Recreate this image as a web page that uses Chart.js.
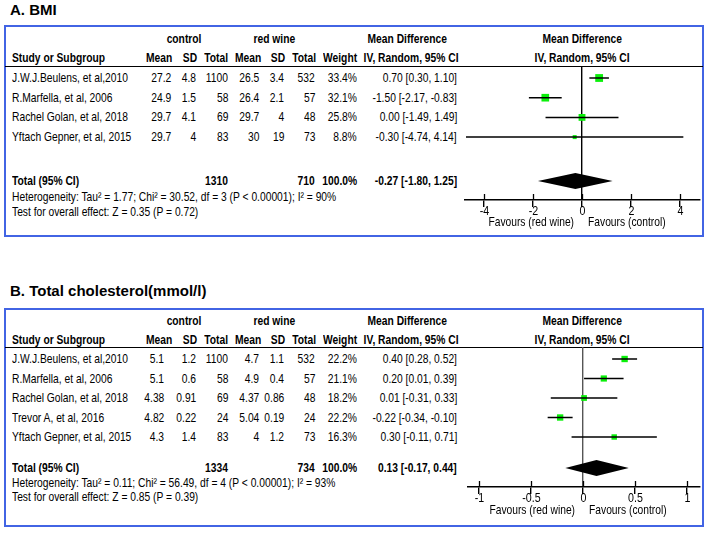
<!DOCTYPE html>
<html>
<head>
<meta charset="utf-8">
<script src="https://cdn.jsdelivr.net/npm/chart.js@4"></script>
<style>
  body { margin: 0; background: #fff; }
  #page { position: relative; width: 711px; height: 535px; overflow: hidden; font-family: "Liberation Sans", Arial, sans-serif; font-size: 13px; color: #000; }
  .t { position: absolute; height: 16px; line-height: 16px; white-space: pre; }
  .t span { display: inline-block; transform: scaleX(0.79); }
  .b { font-weight: bold; }
  .title { position: absolute; font-family: "Liberation Sans", Arial, sans-serif; font-weight: bold; font-size: 15px; line-height: 18px; }
  .box { position: absolute; border: 2px solid #4264e4; box-sizing: border-box; }
  .sep { position: absolute; height: 1px; background: #000; }
  canvas { position: absolute; }
</style>
</head>
<body>
<div id="page"></div>
<script>
// ---- panel A: BMI ----
const studiesA = ['J.W.J.Beulens, et al,2010', 'R.Marfella, et al, 2006', 'Rachel Golan, et al, 2018', 'Yftach Gepner, et al, 2015'];
const ctrlMeanA = [27.2, 24.9, 29.7, 29.7];
const ctrlSdA = [4.8, 1.5, 4.1, 4];
const ctrlTotalA = [1100, 58, 69, 83];
const wineMeanA = [26.5, 26.4, 29.7, 30];
const wineSdA = [3.4, 2.1, 4, 19];
const wineTotalA = [532, 57, 48, 73];
const weightA = [33.4, 32.1, 25.8, 8.8];
const mdA = [0.70, -1.50, 0.00, -0.30];
const loA = [0.30, -2.17, -1.49, -4.74];
const hiA = [1.10, -0.83, 1.49, 4.14];
const pooledA = [-0.27, -1.80, 1.25];   // estimate, low, high
const sumsA = [1310, 710];
const hetA = 'Heterogeneity: Tau\u00b2 = 1.77; Chi\u00b2 = 30.52, df = 3 (P < 0.00001); I\u00b2 = 90%';
const testA = 'Test for overall effect: Z = 0.35 (P = 0.72)';
const ticksA = [-4, -2, 0, 2, 4];

// ---- panel B: total cholesterol ----
const studiesB = ['J.W.J.Beulens, et al,2010', 'R.Marfella, et al, 2006', 'Rachel Golan, et al, 2018', 'Trevor A, et al, 2016', 'Yftach Gepner, et al, 2015'];
const ctrlMeanB = [5.1, 5.1, 4.38, 4.82, 4.3];
const ctrlSdB = [1.2, 0.6, 0.91, 0.22, 1.4];
const ctrlTotalB = [1100, 58, 69, 24, 83];
const wineMeanB = [4.7, 4.9, 4.37, 5.04, 4];
const wineSdB = [1.1, 0.4, 0.86, 0.19, 1.2];
const wineTotalB = [532, 57, 48, 24, 73];
const weightB = [22.2, 21.1, 18.2, 22.2, 16.3];
const mdB = [0.40, 0.20, 0.01, -0.22, 0.30];
const loB = [0.28, 0.01, -0.31, -0.34, -0.11];
const hiB = [0.52, 0.39, 0.33, -0.10, 0.71];
const pooledB = [0.13, -0.17, 0.44];
const sumsB = [1334, 734];
const hetB = 'Heterogeneity: Tau\u00b2 = 0.11; Chi\u00b2 = 56.49, df = 4 (P < 0.00001); I\u00b2 = 93%';
const testB = 'Test for overall effect: Z = 0.85 (P = 0.39)';
const ticksB = [-1, -0.5, 0, 0.5, 1];

const NARROW = 0.79;   // Arial squeezed to look like Arial Narrow
const page = document.getElementById('page');

function txt(str, x, y, align, bold) {
    const d = document.createElement('div');
    d.className = 't' + (bold ? ' b' : '');
    const s = document.createElement('span');
    s.textContent = str;
    d.appendChild(s);
    if (align === 'right') {
        d.style.left = (x - 200) + 'px'; d.style.width = '200px'; d.style.textAlign = 'right';
        s.style.transformOrigin = 'right center';
    } else if (align === 'center') {
        d.style.left = (x - 100) + 'px'; d.style.width = '200px'; d.style.textAlign = 'center';
        s.style.transformOrigin = 'center center';
    } else {
        d.style.left = x + 'px';
        s.style.transformOrigin = 'left center';
    }
    d.style.top = (y - 8) + 'px';
    page.appendChild(d);
}

function fmtCI(m, l, h) {
    return m.toFixed(2) + ' [' + l.toFixed(2) + ', ' + h.toFixed(2) + ']';
}

function narrowText(c, str, x, y, align) {
    c.save();
    c.translate(x, y);
    c.scale(NARROW, 1);
    c.textAlign = align;
    c.fillText(str, 0, 0);
    c.restore();
}

// plugin: diamond, tick marks crossing the axis, tick labels, favours labels
const forestPlugin = {
    id: 'forest',
    afterDraw(chart) {
        const o = chart.options.plugins.forest;
        const xs = chart.scales.x, ys = chart.scales.y;
        const c = chart.ctx;
        c.save();
        // diamond
        const yc = ys.getPixelForValue(o.totalRow);
        c.beginPath();
        c.moveTo(xs.getPixelForValue(o.pooled[1]), yc);
        c.lineTo(xs.getPixelForValue(o.pooled[0]), yc - 8);
        c.lineTo(xs.getPixelForValue(o.pooled[2]), yc);
        c.lineTo(xs.getPixelForValue(o.pooled[0]), yc + 8);
        c.closePath();
        c.fillStyle = '#000';
        c.fill();
        // upper halves of tick marks + labels
        const ay = chart.chartArea.bottom;
        c.strokeStyle = '#000';
        c.lineWidth = 1.3;
        c.font = '13.5px "Liberation Sans", Arial, sans-serif';
        c.fillStyle = '#000';
        c.textBaseline = 'middle';
        xs.ticks.forEach(t => {
            const px = Math.round(xs.getPixelForValue(t.value)) + 0.5;
            c.beginPath();
            c.moveTo(px, ay - 6);
            c.lineTo(px, ay);
            c.stroke();
            narrowText(c, String(t.value), px, ay + 11, 'center');
        });
        // favours labels
        const zx = xs.getPixelForValue(0);
        c.font = '13px "Liberation Sans", Arial, sans-serif';
        narrowText(c, 'Favours (red wine)', zx - 8, ay + o.favoursDy, 'right');
        narrowText(c, 'Favours (control)', zx + 6, ay + o.favoursDy, 'left');
        c.restore();
    }
};

function panel(p) {
    const n = p.studies.length;
    // title and frame
    const ti = document.createElement('div');
    ti.className = 'title';
    ti.textContent = p.title;
    ti.style.left = '10px';
    ti.style.top = (p.titleY - 9) + 'px';
    page.appendChild(ti);
    const bx = document.createElement('div');
    bx.className = 'box';
    bx.style.left = '4px'; bx.style.top = p.boxTop + 'px';
    bx.style.width = '700px'; bx.style.height = (p.boxBottom - p.boxTop) + 'px';
    page.appendChild(bx);
    const sp = document.createElement('div');
    sp.className = 'sep';
    sp.style.left = '5px'; sp.style.width = '698px'; sp.style.top = p.sepY + 'px';
    page.appendChild(sp);

    // header
    txt('control', 184, p.h1, 'center', true);
    txt('red wine', 274, p.h1, 'center', true);
    txt('Mean Difference', 407, p.h1, 'center', true);
    txt('Mean Difference', 582, p.h1, 'center', true);
    txt('Study or Subgroup', 12, p.h2, 'left', true);
    txt('Mean', 172, p.h2, 'right', true);
    txt('SD', 197, p.h2, 'right', true);
    txt('Total', 228, p.h2, 'right', true);
    txt('Mean', 261, p.h2, 'right', true);
    txt('SD', 285, p.h2, 'right', true);
    txt('Total', 316, p.h2, 'right', true);
    txt('Weight', 357, p.h2, 'right', true);
    txt('IV, Random, 95% CI', 411, p.h2, 'center', true);
    txt('IV, Random, 95% CI', 582, p.h2, 'center', true);

    // study rows
    for (let i = 0; i < n; i++) {
        const y = p.row0 + i * p.rowH;
        txt(p.studies[i], 12, y, 'left');
        txt(String(p.cm[i]), p.meanX, y, 'right');
        txt(String(p.cs[i]), 196, y, 'right');
        txt(String(p.ct[i]), 228, y, 'right');
        txt(String(p.wm[i]), 259, y, 'right');
        txt(String(p.ws[i]), 284, y, 'right');
        txt(String(p.wt[i]), 315, y, 'right');
        txt(p.w[i].toFixed(1) + '%', 357, y, 'right');
        txt(fmtCI(p.md[i], p.lo[i], p.hi[i]), 457, y, 'right');
    }
    txt('Total (95% CI)', 12, p.totalY, 'left', true);
    txt(String(p.sums[0]), 228, p.totalY, 'right', true);
    txt(String(p.sums[1]), 315, p.totalY, 'right', true);
    txt('100.0%', 357, p.totalY, 'right', true);
    txt(fmtCI(p.pooled[0], p.pooled[1], p.pooled[2]), 457, p.totalY, 'right', true);
    txt(p.het, 12, p.hetY, 'left');
    txt(p.test, 12, p.testY, 'left');

    // plot
    const cv = document.createElement('canvas');
    const cLeft = p.axisL - 10, cTop = p.sepY - 6;
    const cW = p.axisR + 10 - cLeft, cH = p.boxBottom - 2 - cTop;
    cv.width = cW; cv.height = cH;
    cv.style.left = cLeft + 'px'; cv.style.top = cTop + 'px';
    page.appendChild(cv);

    const yMin = (p.sepY - p.row0) / p.rowH;
    const yMax = (p.axisY - p.row0) / p.rowH;
    const totalRow = (p.totalY - p.row0) / p.rowH;
    const axisH = cH - (p.axisY - cTop);

    const datasets = [];
    for (let i = 0; i < n; i++) {
        datasets.push({
            data: [{ x: p.lo[i], y: i }, { x: p.hi[i], y: i }],
            showLine: true, borderColor: '#000', borderWidth: 1.5, pointRadius: 0
        });
    }
    datasets.push({
        data: p.md.map((v, i) => ({ x: v, y: i })),
        pointStyle: 'rect',
        pointRadius: p.w.map(w => 1.35 * Math.sqrt(w) / Math.SQRT2),
        backgroundColor: '#0af00a', borderColor: '#0af00a', borderWidth: 0
    });

    new Chart(cv, {
        type: 'scatter',
        data: { datasets },
        options: {
            responsive: false,
            animation: false,
            devicePixelRatio: 1,
            layout: { padding: { left: 10, right: 10, top: 6, bottom: 0 } },
            plugins: {
                legend: { display: false },
                tooltip: { enabled: false },
                forest: { pooled: p.pooled, totalRow: totalRow, favoursDy: p.favDy }
            },
            scales: {
                x: {
                    type: 'linear', min: p.xMin, max: p.xMax,
                    afterBuildTicks: s => { s.ticks = p.ticks.map(v => ({ value: v })); },
                    afterFit: s => { s.height = axisH; },
                    grid: {
                        drawOnChartArea: true,
                        color: c => (c.tick && c.tick.value === 0) ? p.zeroColor : 'rgba(0,0,0,0)',
                        lineWidth: 1.4,
                        tickColor: '#000', tickLength: 7
                    },
                    border: { display: true, color: '#000', width: 1.5 },
                    ticks: { display: false }
                },
                y: { type: 'linear', display: false, reverse: true, min: yMin, max: yMax }
            }
        },
        plugins: [forestPlugin]
    });
}

panel({
    title: 'A. BMI', titleY: 10, boxTop: 25, boxBottom: 237,
    h1: 39, h2: 58, sepY: 66,
    studies: studiesA, cm: ctrlMeanA, cs: ctrlSdA, ct: ctrlTotalA, wm: wineMeanA, ws: wineSdA, wt: wineTotalA,
    w: weightA, md: mdA, lo: loA, hi: hiA, pooled: pooledA, sums: sumsA, het: hetA, test: testA,
    meanX: 171, row0: 78, rowH: 19.7, totalY: 181, hetY: 197, testY: 212,
    axisY: 200, axisL: 465, axisR: 700, xMin: -4.78, xMax: 4.82, ticks: ticksA, zeroColor: '#000', favDy: 22
});

panel({
    title: 'B. Total cholesterol(mmol/l)', titleY: 291, boxTop: 308, boxBottom: 527,
    h1: 321, h2: 340, sepY: 347,
    studies: studiesB, cm: ctrlMeanB, cs: ctrlSdB, ct: ctrlTotalB, wm: wineMeanB, ws: wineSdB, wt: wineTotalB,
    w: weightB, md: mdB, lo: loB, hi: hiB, pooled: pooledB, sums: sumsB, het: hetB, test: testB,
    meanX: 164, row0: 359, rowH: 19.5, totalY: 468, hetY: 483, testY: 497,
    axisY: 487, axisL: 468, axisR: 700, xMin: -1.106, xMax: 1.125, ticks: ticksB, zeroColor: '#555', favDy: 23
});
</script>
</body>
</html>
